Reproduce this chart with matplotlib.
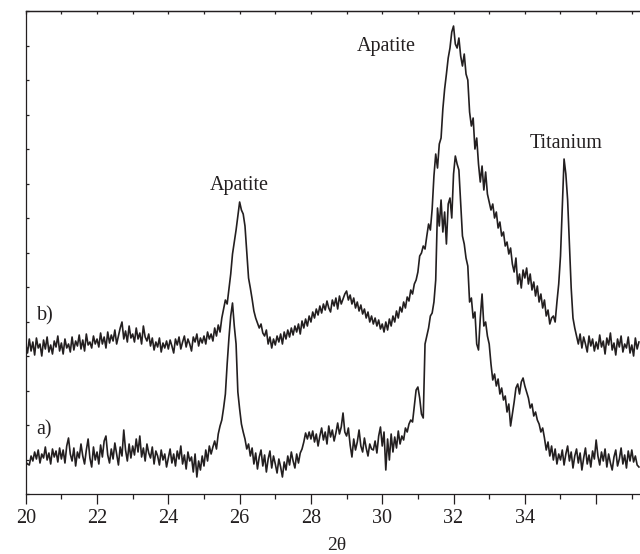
import numpy as np
import matplotlib
matplotlib.use("Agg")
import matplotlib.pyplot as plt


# ===============================
# Data
# ===============================

TWO_THETA_START = 20.0
TWO_THETA_STEP = 0.05

# b) coated sample, one row per degree (20 points of 0.05 deg)
trace_b = [
    150, 141, 155, 143, 152, 139, 156, 146, 150, 138, 154, 145, 157, 142, 149, 140, 153, 147, 158, 143,
    151, 140, 155, 146, 150, 142, 157, 144, 153, 148, 159, 145, 154, 143, 160, 149, 152, 146, 158, 150,
    155, 147, 161, 150, 157, 146, 162, 151, 159, 153, 164, 150, 158, 166, 172, 155, 163, 152, 168, 156,
    160, 152, 166, 155, 161, 150, 168, 157, 153, 160, 148, 156, 144, 152, 147, 156, 142, 151, 146, 153,
    145, 154, 148, 141, 155, 149, 157, 145, 152, 158, 147, 155, 150, 143, 157, 152, 160, 148, 156, 151,
    158, 150, 162, 155, 160, 153, 166, 158, 169, 162, 176, 185, 194, 190, 205, 220, 240, 252, 264, 278,
    292, 284, 280, 268, 242, 216, 206, 195, 183, 176, 171, 166, 170, 161, 158, 164, 150, 157, 146, 155,
    149, 158, 152, 160, 150, 162, 155, 164, 157, 166, 159, 168, 162, 170, 160, 173, 166, 175, 168, 178,
    172, 182, 176, 185, 179, 188, 181, 190, 184, 193, 186, 182, 194, 188, 196, 185, 198, 190, 195, 200,
    203, 194, 199, 190, 196, 186, 192, 183, 189, 180, 185, 176, 182, 172, 178, 170, 176, 168, 174, 165,
    170, 162, 172, 164, 175, 168, 178, 172, 183, 176, 187, 182, 192, 186, 197, 193, 204, 200, 210, 214,
    222, 238, 241, 248, 245, 258, 270, 264, 285, 318, 340, 326, 350, 356, 385, 405, 420, 436, 446, 462,
    468, 450, 446, 456, 438, 428, 440, 420, 414, 382, 368, 376, 345, 356, 330, 312, 328, 304, 322, 300,
    292, 284, 290, 276, 282, 266, 272, 258, 262, 248, 252, 240, 246, 230, 222, 236, 210, 220, 206, 224,
    216, 226, 210, 220, 204, 212, 198, 208, 192, 200, 186, 194, 178, 184, 170, 176, 178, 172, 192, 210,
    238, 286, 335, 320, 294, 250, 206, 176, 166, 158, 150, 160, 146, 157, 150, 142, 158, 148, 155, 143,
    152, 145, 159, 147, 153, 140, 156, 149, 161, 144, 151, 139, 155, 147, 158, 142, 150, 146, 157, 141,
    149, 138, 156, 145, 152,
]

# a) reference sample
trace_a = [
    32, 30, 29, 38, 33, 42, 35, 44, 31, 40, 36, 47, 34, 41, 30, 45, 37, 43, 32, 46,
    35, 44, 31, 48, 56, 40, 33, 46, 28, 42, 36, 50, 38, 30, 44, 55, 36, 27, 47, 34,
    42, 30, 49, 37, 53, 58, 39, 31, 45, 35, 51, 40, 29, 47, 38, 64, 44, 33, 50, 36,
    48, 39, 55, 42, 58, 37, 46, 33, 50, 41, 36, 47, 30, 43, 38, 29, 44, 34, 40, 27,
    36, 45, 31, 40, 28, 43, 35, 48, 30, 39, 25, 42, 33, 37, 22, 40, 17, 33, 24, 38,
    28, 44, 33, 48, 40, 47, 53, 45, 60, 68, 74, 86, 100, 130, 156, 178, 191, 168, 150, 102,
    85, 70, 62, 55, 45, 50, 38, 46, 30, 41, 25, 37, 44, 28, 39, 22, 35, 43, 26, 38,
    30, 21, 35, 27, 17, 32, 24, 38, 29, 42, 33, 26, 40, 31, 41, 45, 52, 61, 55, 62,
    55, 63, 52, 60, 48, 58, 66, 54, 62, 50, 68, 57, 64, 53, 61, 71, 60, 67, 81, 62,
    58, 66, 49, 37, 55, 44, 52, 64, 48, 42, 56, 46, 38, 50, 45, 44, 53, 41, 58, 67,
    48, 62, 24, 55, 34, 60, 42, 57, 46, 63, 50, 58, 54, 66, 62, 70, 74, 72, 88, 104,
    107, 96, 80, 76, 150, 158, 166, 178, 181, 192, 214, 286, 268, 294, 262, 282, 250, 290, 296, 276,
    320, 338, 330, 324, 290, 258, 250, 236, 228, 192, 196, 176, 182, 150, 144, 176, 200, 168, 172, 158,
    150, 130, 114, 120, 108, 115, 100, 106, 94, 98, 82, 90, 68, 80, 92, 106, 110, 100, 112, 116,
    108, 102, 96, 86, 90, 78, 82, 74, 70, 62, 66, 56, 44, 52, 38, 48, 34, 45, 30, 40,
    34, 44, 29, 40, 48, 33, 42, 26, 38, 45, 31, 41, 24, 36, 46, 30, 39, 27, 43, 35,
    54, 38, 29, 42, 33, 45, 27, 40, 31, 24, 37, 44, 28, 35, 46, 30, 39, 26, 43, 33,
    44, 32, 38, 29, 27,
]

major_ticks = [20, 22, 24, 26, 28, 30, 32, 34, 36]
major_labels = ["20", "22", "24", "26", "28", "30", "32", "34", ""]
minor_ticks = [21, 23, 25, 27, 29, 31, 33, 35, 37]

# (text, 2theta, intensity)
peak_labels = [
    ("Apatite", 25.98, 309),
    ("Apatite", 30.11, 448),
    ("Titanium", 35.17, 351),
    ("b)", 20.54, 178),
    ("a)", 20.50, 64),
]

X_MAX = 37.23
Y_MAX = 483


# ===============================
# Plot
# ===============================

def plot_pattern():
    plt.rcParams["font.family"] = ["Liberation Serif", "DejaVu Serif"]
    ink = "#231f20"

    two_theta = np.round(TWO_THETA_START + TWO_THETA_STEP * np.arange(len(trace_b)), 2)

    fig = plt.figure(figsize=(6.4, 5.54), dpi=100)
    ax = fig.add_axes([0.0402, 0.1083, 0.9598, 0.8718])

    ax.plot(two_theta, trace_b, color=ink, lw=1.2)
    ax.plot(two_theta, trace_a, color=ink, lw=1.2)

    ax.set_xlim(TWO_THETA_START, X_MAX)
    ax.set_ylim(0, Y_MAX)

    for side in ("left", "bottom", "top"):
        ax.spines[side].set_linewidth(0.9)
        ax.spines[side].set_color(ink)
    ax.spines["right"].set_visible(False)

    ax.set_xticks(major_ticks)
    ax.set_xticklabels(major_labels)
    ax.set_xticks(minor_ticks, minor=True)
    ax.tick_params(axis="x", which="major", direction="out", length=7,
                   width=0.9, color=ink, labelsize=14.5, pad=4, labelcolor=ink)
    ax.tick_params(axis="x", which="minor", direction="out", length=3.5,
                   width=0.9, color=ink)

    ax.set_yticks(np.linspace(0, Y_MAX, 15))
    ax.set_yticklabels([])
    ax.tick_params(axis="y", direction="in", length=2.5, width=0.9, color=ink)

    top = ax.secondary_xaxis("top")
    top.set_xticks(major_ticks + minor_ticks)
    top.set_xticklabels([])
    top.tick_params(direction="in", length=2.5, width=0.9, color=ink)
    top.spines["top"].set_linewidth(0.9)
    top.spines["top"].set_color(ink)

    # axis title sits right at the bottom edge in the original
    fig.text(337 / 640, 1 - 545 / 554, "2θ", ha="center", va="center",
             fontsize=14, color=ink)

    for text, x, y in peak_labels:
        ax.text(x, y, text, ha="center", va="center", fontsize=14.5, color=ink)

    fig.savefig("out.png", dpi=100)


def main():
    plot_pattern()


if __name__ == "__main__":
    main()
